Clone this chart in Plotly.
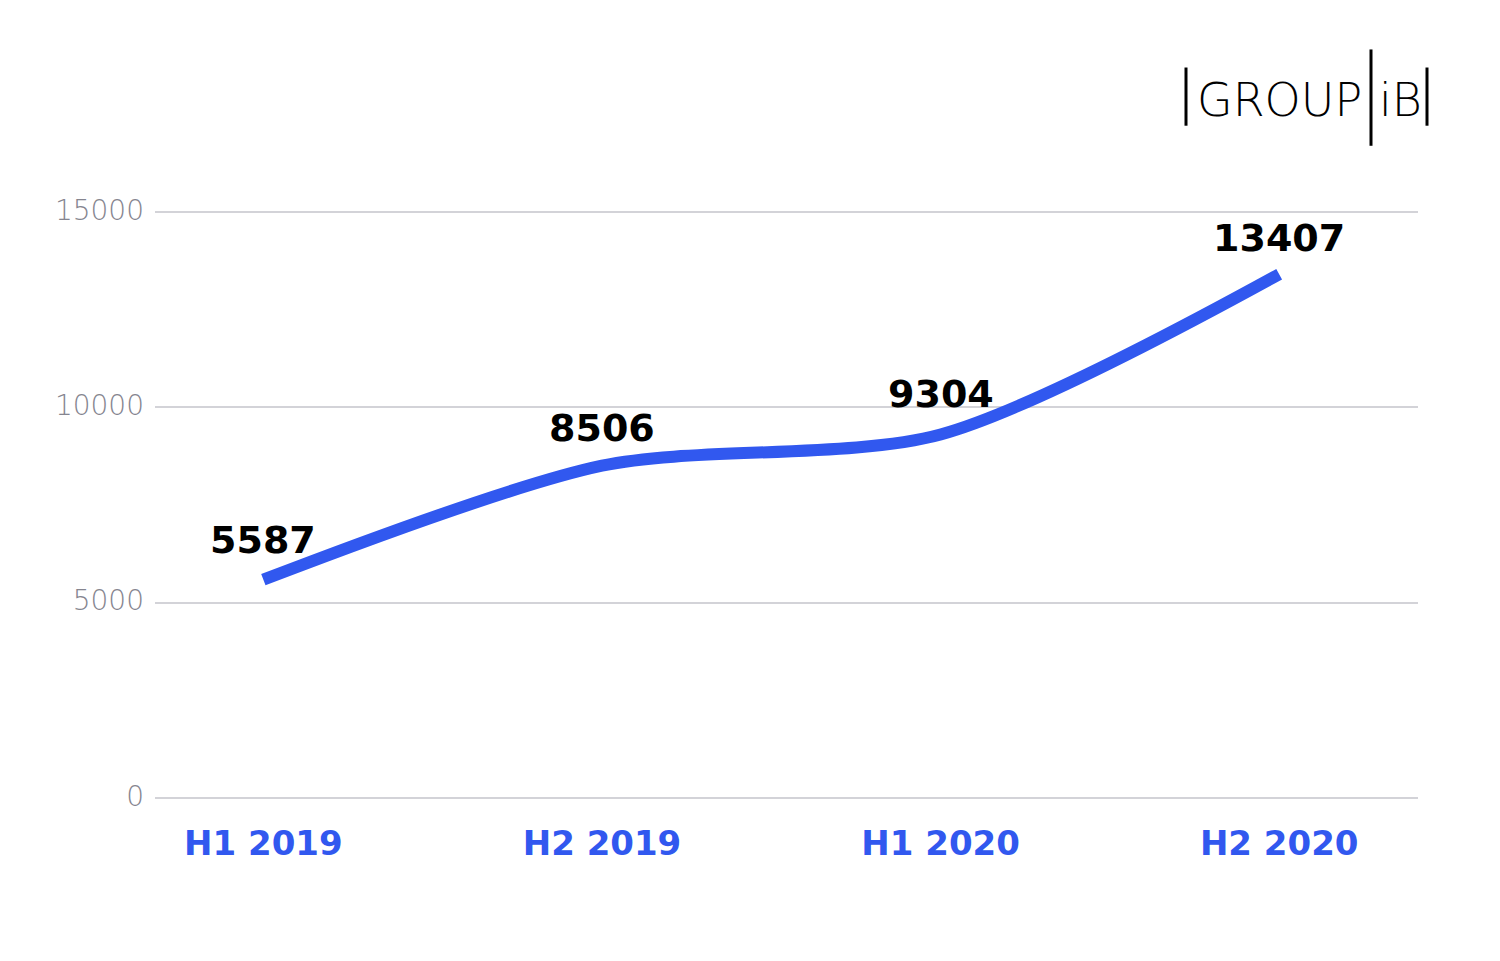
import plotly.graph_objects as go

categories = ["H1 2019", "H2 2019", "H1 2020", "H2 2020"]
values = [5587, 8506, 9304, 13407]
y_ticks = [0, 5000, 10000, 15000]
y_tick_text = ["0", "5000", "10000", "15000"]

x_pos = list(range(len(categories)))
label_shift = [40, 38, 40, 36]

BLUE = "#3158ef"

fig = go.Figure()
fig.add_trace(go.Scatter(
    x=x_pos, y=values, mode="lines",
    line=dict(color=BLUE, width=12, shape="spline", smoothing=0.8),
    hoverinfo="skip", showlegend=False,
))

for xi, v, s in zip(x_pos, values, label_shift):
    fig.add_annotation(
        x=xi, y=v, text=f"{v}", showarrow=False, yshift=s,
        font=dict(family="DejaVu Sans", size=38, color="#000000", weight="bold"),
    )

# logo
def px_x(x):
    return (x - 155) / 1263

def px_y(y):
    return (798 - y) / 586

fig.add_annotation(
    xref="paper", yref="paper", x=px_x(1279), y=px_y(102), text="GROUP",
    showarrow=False, xanchor="center", yanchor="middle",
    font=dict(family="DejaVu Sans", size=46, color="#000000", weight=200),
)
fig.add_annotation(
    xref="paper", yref="paper", x=px_x(1400), y=px_y(102), text="iB",
    showarrow=False, xanchor="center", yanchor="middle",
    font=dict(family="DejaVu Sans", size=46, color="#000000", weight=200),
)
for x0, y0, y1 in [(1186, 70, 128), (1371, 52, 148), (1427, 70, 128)]:
    fig.add_shape(type="line", xref="paper", yref="paper",
                  x0=px_x(x0), x1=px_x(x0), y0=px_y(y0), y1=px_y(y1),
                  line=dict(color="#000000", width=3))

fig.update_layout(
    width=1500, height=961,
    margin=dict(l=155, r=82, t=210, b=163),
    paper_bgcolor="#ffffff", plot_bgcolor="#ffffff",
    xaxis=dict(
        range=[-0.32, 3.41], tickvals=x_pos, ticktext=categories,
        showgrid=False, zeroline=False, showline=False,
        tickfont=dict(family="DejaVu Sans", size=34, color=BLUE, weight="bold"),
        ticklabelstandoff=22,
    ),
    yaxis=dict(
        range=[0, 15050], tickvals=y_ticks, ticktext=y_tick_text,
        showgrid=True, gridcolor="#d3d3d8", gridwidth=2,
        zeroline=True, zerolinecolor="#d3d3d8", zerolinewidth=2,
        showline=False,
        tickfont=dict(family="DejaVu Sans", size=28, color="#85858f", weight=200),
        ticklabelstandoff=10, ticklabelshift=-2,
    ),
)

fig.write_html("out.html")
